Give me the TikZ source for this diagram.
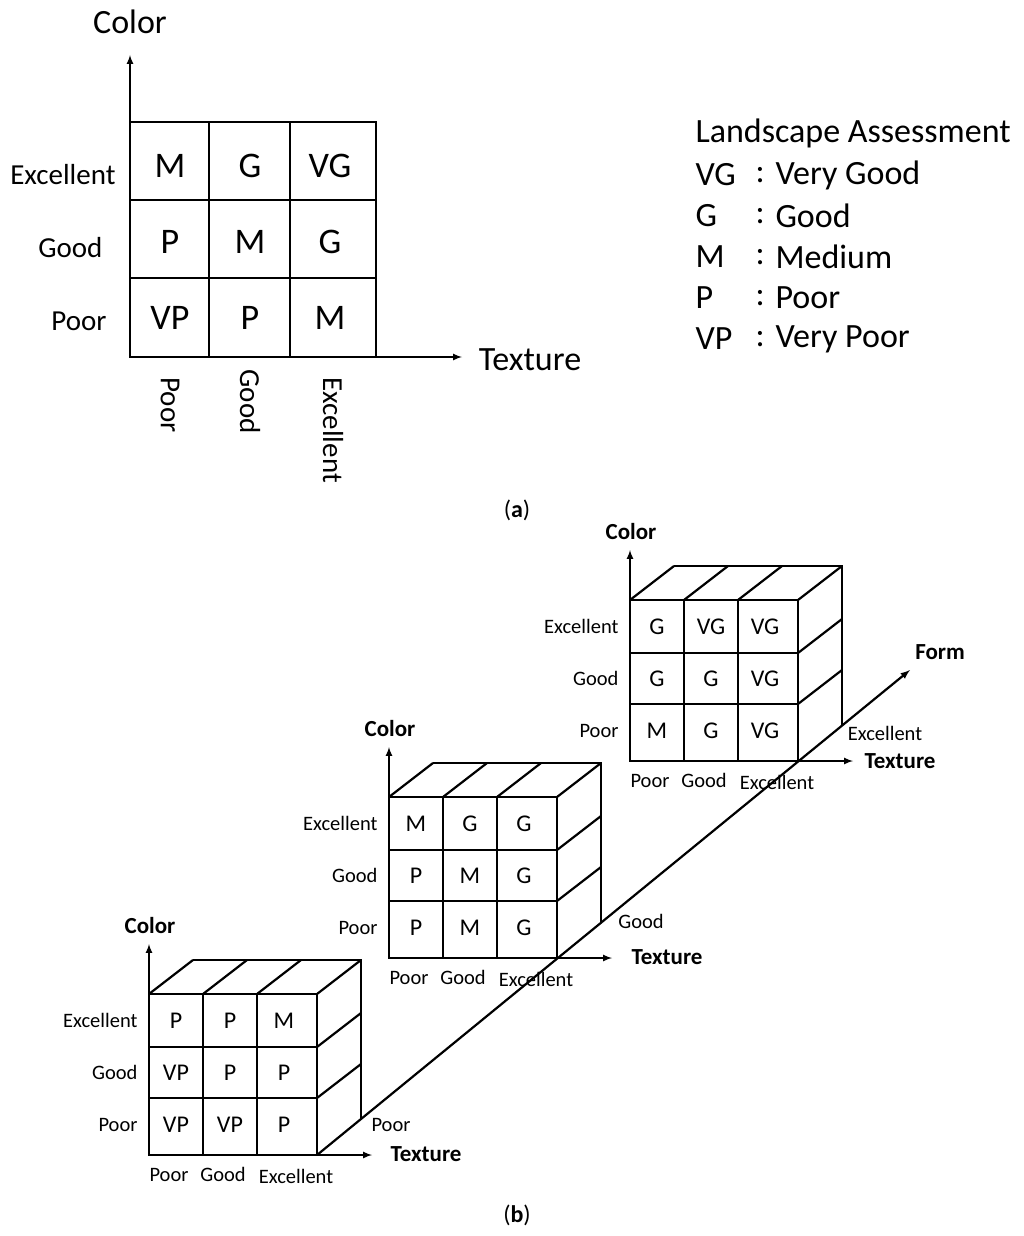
\documentclass[tikz,border=0pt]{standalone}
\usepackage{fontspec}
\setmainfont{Carlito}
\begin{document}
\begin{tikzpicture}[x=1pt,y=-1pt,
  ln/.style={line width=2.2pt},
  ax/.style={line width=2pt,-latex},
  ca/.style={font=\fontsize{36}{40}\selectfont},
  la/.style={font=\fontsize{29}{32}\selectfont},
  al/.style={font=\fontsize{34}{38}\selectfont},
  lg/.style={font=\fontsize{34}{38}\selectfont,anchor=west},
  cb/.style={font=\fontsize{24}{28}\selectfont},
  lb/.style={font=\fontsize{20.5}{24}\selectfont},
  bb/.style={font=\bfseries\fontsize{23}{26}\selectfont}]
\useasboundingbox (0,0) rectangle (1024,1236);
% ---------- (a)
\coordinate (ao) at (130,357);
\coordinate (ay) at (130,55);
\coordinate (ax) at (462,357);
\draw[ln] (130,122) rectangle (376,357);
\foreach \x in {209,290} \draw[ln] (\x,122) -- (\x,357);
\foreach \y in {200,278} \draw[ln] (130,\y) -- (376,\y);
\draw[ax] (ao) -- (ay);
\draw[ax] (ao) -- (ax);
\node[al] (acol) at (130,22) {Color};
\node[al] (atex) at (530,360) {Texture};
\node[la,anchor=east] (ar1) at (119,175) {Excellent};
\node[la,anchor=east] (ar2) at (106,248) {Good};
\node[la,anchor=east] (ar3) at (110,321) {Poor};
\node[la,rotate=-90,anchor=west] (ac1) at (170,374) {Poor};
\node[la,rotate=-90,anchor=west] (ac2) at (250,366) {Good};
\node[la,rotate=-90,anchor=west] (ac3) at (333,374) {Excellent};
\foreach \t [count=\i from 0] in {M,G,VG,P,M,G,VP,P,M}{
  \pgfmathsetmacro\cx{170+80*mod(\i,3)}
  \pgfmathsetmacro\cy{166+76*int(\i/3)}
  \node[ca] (a\i) at (\cx,\cy) {\t};}
\node[lg] (lt) at (692,133) {Landscape Assessment};
\foreach \a/\b [count=\i] in {VG/Very Good,G/Good,M/Medium,P/Poor,VP/Very Poor}{
  \pgfmathsetmacro\yy{134+41*\i}
  \node[lg] (la\i) at (692,\yy) {\a};
  \node[lg] (lc\i) at (752,\yy) {:};
  \node[lg] (lb\i) at (772,\yy) {\b};}
\node[font=\fontsize{24}{28}\selectfont] (capa) at (517,510) {(\textbf{a})};
% ---------- (b)
\coordinate (f0) at (317,1155);
\coordinate (f1) at (910,670);
\draw[ln,-latex] (f0) -- (f1);
\node[bb] (form) at (940,652) {Form};
\newcommand\mycube[4]{% left, top, name, entries
  \begin{scope}[shift={(#1,#2)}]
  \draw[ln] (0,0) rectangle (168,161);
  \draw[ln] (54,0) -- (54,161) (108,0) -- (108,161);
  \draw[ln] (0,53) -- (168,53) (0,104) -- (168,104);
  \foreach \x in {0,54,108,168} \draw[ln] (\x,0) -- ++(44,-34);
  \draw[ln] (44,-34) -- (212,-34) -- (212,125);
  \foreach \y in {53,104} \draw[ln] (168,\y) -- ++(44,-34);
  \coordinate (#3o) at (0,161);
  \coordinate (#3y) at (0,-50);
  \coordinate (#3x) at (223,161);
  \draw[ax] (#3o) -- (#3y);
  \draw[ax] (#3o) -- (#3x);
  \node[bb] (#3col) at (1,-68) {Color};
  \node[lb,anchor=east] (#3r1) at (-8,26) {Excellent};
  \node[lb,anchor=east] (#3r2) at (-8,78) {Good};
  \node[lb,anchor=east] (#3r3) at (-8,131) {Poor};
  \node[lb] (#3c1) at (20,181) {Poor};
  \node[lb] (#3c2) at (74,180) {Good};
  \node[lb] (#3c3) at (147,182) {Excellent};
  \foreach \t [count=\i from 0] in {#4}{
    \pgfmathsetmacro\cx{27+54*mod(\i,3)}
    \pgfmathsetmacro\cy{27+52*int(\i/3)}
    \node[cb] (#3e\i) at (\cx,\cy) {\t};}
  \end{scope}}
\mycube{149}{994}{ca}{P,P,M,VP,P,P,VP,VP,P}
\mycube{389}{797}{cb}{M,G,G,P,M,G,P,M,G}
\mycube{630}{600}{cc}{G,VG,VG,G,G,VG,M,G,VG}
\node[bb] (t1) at (426,1154) {Texture};
\node[bb] (t2) at (667,957) {Texture};
\node[bb] (t3) at (900,761) {Texture};
\node[lb] (p1) at (391,1125) {Poor};
\node[lb] (p2) at (641,921) {Good};
\node[lb] (p3) at (885,733) {Excellent};
\node[font=\fontsize{24}{28}\selectfont] (capb) at (517,1215) {(\textbf{b})};
\end{tikzpicture}
\end{document}
